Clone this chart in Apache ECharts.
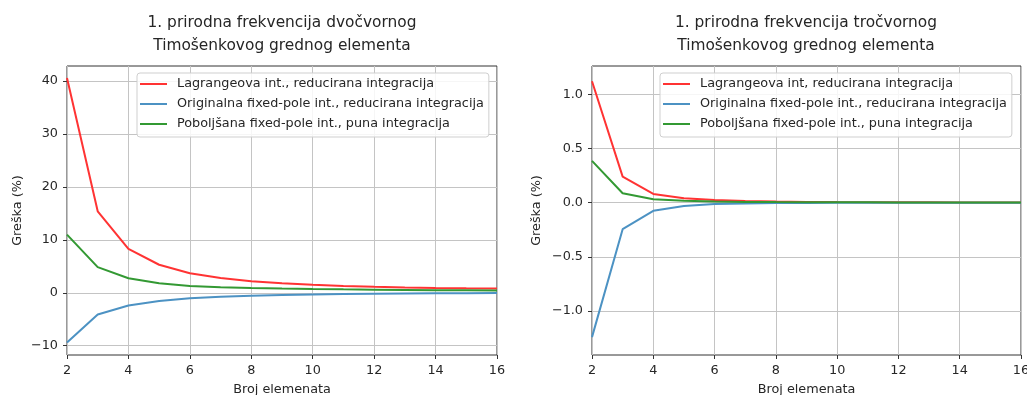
<!DOCTYPE html>
<html>
<head>
<meta charset="utf-8">
<script src="https://cdn.jsdelivr.net/npm/echarts@6/dist/echarts.min.js"></script>
<style>html,body{margin:0;padding:0;background:#fff}#c{width:1027px;height:395px}</style>
</head>
<body>
<div id="c"></div>
<script>
// ---- data ----
const brojElemenata = [2,3,4,5,6,7,8,9,10,11,12,13,14,15,16];

const titleLeft = '1. prirodna frekvencija dvočvornog\nTimošenkovog grednog elementa';
const titleRight = '1. prirodna frekvencija tročvornog\nTimošenkovog grednog elementa';

const nameLagL = 'Lagrangeova int., reducirana integracija';
const nameLagR = 'Lagrangeova int, reducirana integracija';
const nameOrig = 'Originalna fixed-pole int., reducirana integracija';
const namePob  = 'Poboljšana fixed-pole int., puna integracija';

const lagLeft  = [40.6, 15.4, 8.3, 5.3, 3.7, 2.8, 2.2, 1.8, 1.5, 1.3, 1.15, 1.02, 0.93, 0.85, 0.8];
const origLeft = [-9.4, -4.1, -2.4, -1.55, -1.05, -0.75, -0.55, -0.4, -0.3, -0.22, -0.16, -0.12, -0.09, -0.07, -0.05];
const pobLeft  = [11.0, 4.85, 2.75, 1.8, 1.3, 1.05, 0.9, 0.8, 0.72, 0.65, 0.6, 0.55, 0.5, 0.46, 0.43];

const lagRight  = [1.12, 0.24, 0.08, 0.04, 0.025, 0.015, 0.01, 0.007, 0.005, 0.004, 0.003, 0.0025, 0.002, 0.0016, 0.0013];
const origRight = [-1.24, -0.245, -0.075, -0.03, -0.013, -0.007, -0.004, -0.003, -0.002, -0.0015, -0.001, -0.0008, -0.0006, -0.0005, -0.0004];
const pobRight  = [0.385, 0.087, 0.031, 0.018, 0.011, 0.007, 0.005, 0.004, 0.003, 0.0025, 0.002, 0.0017, 0.0014, 0.0012, 0.001];

const yTicksLeft  = [-10, 0, 10, 20, 30, 40];
const yTicksRight = [-1.0, -0.5, 0.0, 0.5, 1.0];
const xTicks = [2, 4, 6, 8, 10, 12, 14, 16];

const xName = 'Broj elemenata';
const yName = 'Greška (%)';

// ---- chart ----
const FONT = 'DejaVu Sans';
const C_RED = '#ff3333', C_BLUE = '#4c92c3', C_GREEN = '#339933';
const pairs = a => brojElemenata.map((n, i) => [n, a[i]]);
const fmt = d => v => (v < 0 ? '\u2212' : '') + Math.abs(v).toFixed(d);

function xAxis(gi) {
  return {
    type: 'value', gridIndex: gi, min: 2, max: 16, interval: 2,
    name: xName, nameLocation: 'middle', nameGap: 28,
    nameTextStyle: {fontFamily: FONT, fontSize: 12.8, color: '#262626'},
    axisLine: {show: false, onZero: false},
    axisTick: {show: true, length: 4, lineStyle: {color: '#333'}, customValues: xTicks},
    axisLabel: {margin: 9, fontFamily: FONT, fontSize: 12.8, color: '#262626', customValues: xTicks, formatter: v => String(v)},
    splitLine: {show: true, lineStyle: {color: '#c4c4c4', width: 1}}
  };
}
function yAxis(gi, min, max, ticks, dec, gap) {
  return {
    type: 'value', gridIndex: gi, min: min, max: max, splitNumber: 5,
    name: yName, nameLocation: 'middle', nameGap: gap, nameRotate: 90,
    nameTextStyle: {fontFamily: FONT, fontSize: 12.8, color: '#262626'},
    axisLine: {show: false, onZero: false},
    axisTick: {show: true, length: 4, lineStyle: {color: '#333'}, customValues: ticks},
    axisLabel: {margin: 9, fontFamily: FONT, fontSize: 12.8, color: '#262626', customValues: ticks, formatter: fmt(dec)},
    splitLine: {show: true, lineStyle: {color: '#c4c4c4', width: 1}}
  };
}
function line(name, data, color, gi) {
  return {
    type: 'line', name: name, data: pairs(data), xAxisIndex: gi, yAxisIndex: gi,
    symbol: 'none', smooth: false, color: color,
    lineStyle: {color: color, width: 2}, itemStyle: {color: color},
    animation: false, z: 3
  };
}
function legend(left, names) {
  return {
    orient: 'vertical', left: left, top: 73, data: names,
    icon: 'rect', itemWidth: 27, itemHeight: 2, itemGap: 0,
    padding: [1, 5, 3, 3],
    backgroundColor: 'rgba(255,255,255,0.85)', borderColor: '#cfcfcf', borderWidth: 1, borderRadius: 3,
    textStyle: {fontFamily: FONT, fontSize: 12.8, color: '#262626', lineHeight: 20, padding: [0, 0, 0, 5]},
    selectedMode: false
  };
}

const chart = echarts.init(document.getElementById('c'), null, {renderer: 'canvas'});
chart.setOption({
  backgroundColor: '#ffffff',
  animation: false,
  title: [
    {text: titleLeft, left: 282, top: 11, textAlign: 'center', padding: 0,
     textStyle: {fontFamily: FONT, fontSize: 15.4, fontWeight: 'normal', color: '#262626', lineHeight: 23}},
    {text: titleRight, left: 806, top: 11, textAlign: 'center', padding: 0,
     textStyle: {fontFamily: FONT, fontSize: 15.4, fontWeight: 'normal', color: '#262626', lineHeight: 23}}
  ],
  grid: [
    {left: 67, top: 66, width: 430, height: 289, show: true, borderColor: '#333', borderWidth: 1,
     backgroundColor: 'transparent', outerBoundsMode: 'none', containLabel: false},
    {left: 592, top: 66, width: 429, height: 289, show: true, borderColor: '#333', borderWidth: 1,
     backgroundColor: 'transparent', outerBoundsMode: 'none', containLabel: false}
  ],
  xAxis: [xAxis(0), xAxis(1)],
  yAxis: [
    yAxis(0, -11.75, 42.85, yTicksLeft, 0, 43),
    yAxis(1, -1.405, 1.26, yTicksRight, 1, 49)
  ],
  legend: [
    legend(137, [nameLagL, nameOrig, namePob]),
    legend(660, [nameLagR, nameOrig, namePob])
  ],
  series: [
    line(nameLagL, lagLeft, C_RED, 0),
    line(nameOrig, origLeft, C_BLUE, 0),
    line(namePob, pobLeft, C_GREEN, 0),
    line(nameLagR, lagRight, C_RED, 1),
    line(nameOrig, origRight, C_BLUE, 1),
    line(namePob, pobRight, C_GREEN, 1)
  ]
});
</script>
</body>
</html>
